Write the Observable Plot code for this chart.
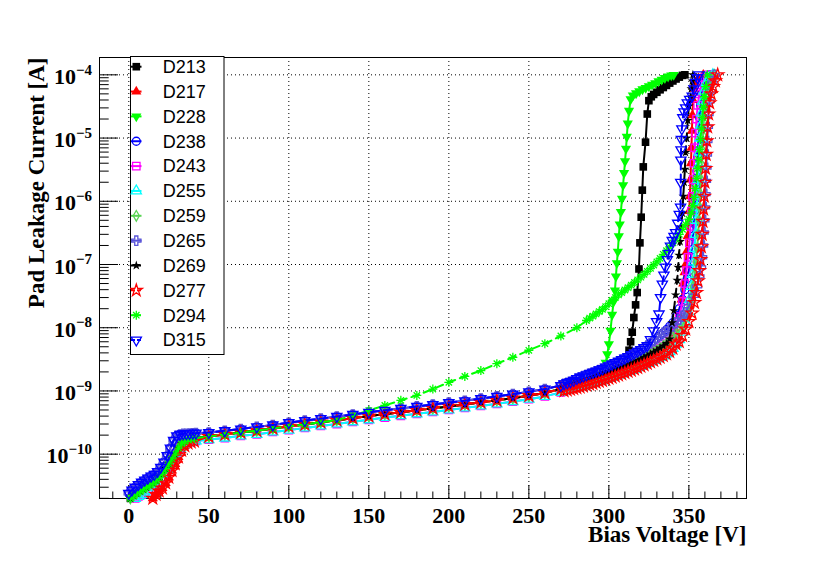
<!DOCTYPE html>
<html><head><meta charset="utf-8">
<script src="https://cdn.jsdelivr.net/npm/d3@7"></script>
<script src="https://cdn.jsdelivr.net/npm/@observablehq/plot@0.6"></script>
<style>
body{margin:0;background:#fff}
#wrap{position:relative;width:830px;height:567px;background:#fff}
</style>
</head><body><div id="wrap"></div>
<script>
// ---------- data ----------
const seriesNames = ["D213","D217","D228","D238","D243","D255","D259","D265","D269","D277","D294","D315"];
const seriesColors = ["#000000","#ff0000","#00ff00","#0000ff","#ff00ff","#00ffff","#59d454","#5954d8","#000000","#ff0000","#00ff00","#0000ff"];
const xMajorTicks = [0,50,100,150,200,250,300,350];
const yMajorTicks = [1e-10,1e-9,1e-8,1e-7,1e-6,1e-5,1e-4];
const yTickExponents = ["\u221210","\u22129","\u22128","\u22127","\u22126","\u22125","\u22124"];
const xTitle = "Bias Voltage [V]";
const yTitle = "Pad Leakage Current [A]";

// shared segments [V, I]
const lowBlue = [[0,2.4e-11],[2,2.7e-11],[4,3.0e-11],[6,3.3e-11],[8,3.6e-11],[10,3.9e-11],[12,4.2e-11],[14,4.5e-11],[16,4.8e-11],[18,5.3e-11],[20,6.2e-11],[22,7.5e-11],[24,9.5e-11],[26,1.25e-10],[28,1.65e-10],[30,1.95e-10],[32,2.05e-10],[34,2.1e-10],[36,2.1e-10],[38,2.12e-10],[40,2.14e-10],[42,2.15e-10]];
const lowGreen = [[1,2.0e-11],[3,2.2e-11],[5,2.4e-11],[7,2.6e-11],[9,2.8e-11],[11,3.0e-11],[13,3.25e-11],[15,3.5e-11],[17,3.85e-11],[19,4.3e-11],[21,5.0e-11],[23,5.9e-11],[25,7.0e-11],[27,8.4e-11],[29,1.0e-10],[31,1.25e-10],[33,1.45e-10],[35,1.6e-10],[37,1.7e-10],[39,1.75e-10],[41,1.78e-10]];
const lowCyan = [[4,2.0e-11],[6,2.15e-11],[8,2.3e-11],[10,2.5e-11],[12,2.7e-11],[14,3.0e-11],[16,3.3e-11],[18,3.7e-11],[20,4.2e-11],[22,4.9e-11],[24,5.8e-11],[26,7.0e-11],[28,8.5e-11],[30,1.05e-10],[32,1.25e-10],[34,1.4e-10],[36,1.5e-10],[38,1.55e-10],[40,1.6e-10],[42,1.62e-10]];
const lowRed = [[15,2.0e-11],[17,2.3e-11],[19,2.6e-11],[21,2.9e-11],[23,3.5e-11],[25,4.3e-11],[27,5.5e-11],[29,7.0e-11],[31,9.0e-11],[33,1.15e-10],[35,1.35e-10],[37,1.5e-10],[39,1.55e-10],[41,1.6e-10]];

const midHi = [[50,2.2e-10],[60,2.35e-10],[70,2.5e-10],[80,2.7e-10],[90,2.9e-10],[100,3.15e-10],[110,3.4e-10],[120,3.65e-10],[130,3.95e-10],[140,4.25e-10],[150,4.6e-10],[160,4.95e-10],[170,5.3e-10],[180,5.7e-10],[190,6.1e-10],[200,6.55e-10],[210,7.0e-10],[220,7.6e-10],[230,8.2e-10],[240,8.9e-10],[250,9.7e-10],[260,1.07e-9],[270,1.22e-9]];
const midMid = [[50,1.9e-10],[60,2.05e-10],[70,2.2e-10],[80,2.35e-10],[90,2.55e-10],[100,2.75e-10],[110,2.95e-10],[120,3.2e-10],[130,3.45e-10],[140,3.7e-10],[150,4.0e-10],[160,4.3e-10],[170,4.6e-10],[180,4.95e-10],[190,5.3e-10],[200,5.7e-10],[210,6.1e-10],[220,6.6e-10],[230,7.1e-10],[240,7.7e-10],[250,8.4e-10],[260,9.3e-10],[270,1.08e-9]];
const midLo = [[50,1.7e-10],[60,1.8e-10],[70,1.95e-10],[80,2.05e-10],[90,2.25e-10],[100,2.4e-10],[110,2.6e-10],[120,2.8e-10],[130,3.0e-10],[140,3.25e-10],[150,3.5e-10],[160,3.8e-10],[170,4.05e-10],[180,4.35e-10],[190,4.65e-10],[200,5.0e-10],[210,5.4e-10],[220,5.8e-10],[230,6.25e-10],[240,6.8e-10],[250,7.4e-10],[260,8.2e-10],[270,9.5e-10]];

const denseHi = [[272,1.3e-9],[274,1.35e-9],[276,1.4e-9],[278,1.47e-9],[280,1.57e-9],[282,1.65e-9],[284,1.72e-9],[286,1.8e-9],[288,1.88e-9],[290,1.96e-9],[292,2.05e-9],[294,2.15e-9],[296,2.25e-9],[298,2.38e-9],[300,2.5e-9],[302,2.65e-9],[304,2.8e-9],[306,2.95e-9],[308,3.12e-9],[310,3.3e-9],[312,3.5e-9],[314,3.72e-9],[316,3.96e-9],[318,4.22e-9],[320,4.5e-9],[322,4.85e-9],[324,5.25e-9],[326,5.7e-9],[328,6.2e-9],[330,6.8e-9],[332,7.5e-9],[334,8.3e-9]];
const denseMid = [[272,1.15e-9],[274,1.2e-9],[276,1.24e-9],[278,1.28e-9],[280,1.33e-9],[282,1.38e-9],[284,1.43e-9],[286,1.49e-9],[288,1.55e-9],[290,1.61e-9],[292,1.68e-9],[294,1.75e-9],[296,1.82e-9],[298,1.9e-9],[300,1.98e-9],[302,2.07e-9],[304,2.16e-9],[306,2.26e-9],[308,2.37e-9],[310,2.48e-9],[312,2.6e-9],[314,2.73e-9],[316,2.87e-9],[318,3.02e-9],[320,3.2e-9],[322,3.4e-9],[324,3.6e-9],[326,3.85e-9],[328,4.1e-9],[330,4.4e-9],[332,4.75e-9],[334,5.15e-9],[336,5.6e-9],[338,6.2e-9],[340,7.0e-9]];
const denseLo = [[272,1.0e-9],[274,1.03e-9],[276,1.06e-9],[278,1.09e-9],[280,1.12e-9],[282,1.15e-9],[284,1.19e-9],[286,1.23e-9],[288,1.27e-9],[290,1.31e-9],[292,1.36e-9],[294,1.41e-9],[296,1.46e-9],[298,1.52e-9],[300,1.58e-9],[302,1.64e-9],[304,1.71e-9],[306,1.78e-9],[308,1.86e-9],[310,1.94e-9],[312,2.03e-9],[314,2.12e-9],[316,2.22e-9],[318,2.33e-9],[320,2.45e-9],[322,2.58e-9],[324,2.72e-9],[326,2.87e-9],[328,3.03e-9],[330,3.2e-9],[332,3.4e-9],[334,3.6e-9],[336,3.85e-9],[338,4.2e-9],[340,4.7e-9],[342,5.5e-9]];

// breakdown segments, one per sensor
const tail213 = [[310,2.6e-9],[311.5,3.2e-9],[312.6,4.4e-9],[313.6,6e-9],[314.6,8.5e-9],[315.6,1.45e-8],[316.7,2.3e-8],[317.7,3.6e-8],[318.8,8.5e-8],[319.4,2.2e-7],[320.2,5.6e-7],[320.9,1.5e-6],[321.5,3.5e-6],[322.9,8.6e-6],[324,2.4e-5],[325,3.9e-5],[326.5,4.5e-5],[328,4.9e-5],[330,5.3e-5],[332,5.8e-5],[334,6.3e-5],[336,6.8e-5],[338,7.4e-5],[340,8.0e-5],[342,8.6e-5],[344,9.2e-5],[346,9.8e-5],[347.5,1.0e-4]];
const tail217 = [[342,8.9e-9],[344,1.6e-8],[345.5,2.8e-8],[346.5,5e-8],[347.3,7.5e-8],[348,1.0e-7],[348.6,1.6e-7],[349.2,2.8e-7],[349.7,4.5e-7],[350.2,7e-7],[350.6,1.2e-6],[351,2.2e-6],[351.3,4e-6],[351.6,7e-6],[351.9,1.3e-5],[352.2,2.3e-5],[352.6,4e-5],[353.2,6e-5],[354,7.6e-5],[356,8.8e-5],[359,1e-4]];
const tail228 = [[296,1.95e-9],[297,2.3e-9],[298,2.8e-9],[299,3.8e-9],[300,5.5e-9],[301,9e-9],[302,1.6e-8],[303,2.6e-8],[303.8,3.9e-8],[304.4,6.5e-8],[305,1.05e-7],[305.6,1.6e-7],[306.2,2.8e-7],[306.8,4.3e-7],[307.5,6.8e-7],[308.2,1.1e-6],[308.9,1.8e-6],[309.5,2.8e-6],[310.1,4.3e-6],[310.7,6.8e-6],[311.2,1.05e-5],[311.8,1.7e-5],[312.6,2.7e-5],[313.6,4.1e-5],[315,4.7e-5],[317,5.1e-5],[319,5.5e-5],[321,5.9e-5],[323,6.2e-5],[325,6.6e-5],[327,7.0e-5],[329,7.4e-5],[331,7.9e-5],[333,8.4e-5],[335,8.9e-5],[337,9.4e-5],[339,9.8e-5],[340.5,1.0e-4]];
const tail238 = [[336,9.3e-9],[338,1.05e-8],[340,1.2e-8],[342,1.5e-8],[344,2e-8],[346,2.8e-8],[347.5,4e-8],[349,6e-8],[350,8e-8],[351,1.1e-7],[351.8,1.7e-7],[352.5,2.8e-7],[353,4.5e-7],[353.5,7e-7],[354,1.1e-6],[354.5,1.8e-6],[355,3e-6],[355.4,5e-6],[355.8,8e-6],[356.2,1.3e-5],[356.7,2.1e-5],[357.3,3.3e-5],[358,5e-5],[359.5,7e-5],[361,8.5e-5],[363,1e-4]];
const tail243 = [[342,9e-9],[344,1.5e-8],[346,2.6e-8],[347.5,5e-8],[348.5,8e-8],[349.5,1.3e-7],[350.3,2.2e-7],[351,4e-7],[351.6,7e-7],[352.2,1.2e-6],[352.7,2.2e-6],[353.2,4e-6],[353.7,7e-6],[354.2,1.2e-5],[354.8,2e-5],[355.5,3.3e-5],[356.5,5e-5],[358,7e-5],[360,9e-5],[362,1e-4]];
const tail255 = [[344,6.5e-9],[346,8.5e-9],[348,1.2e-8],[349.5,1.8e-8],[350.5,2.8e-8],[351.5,4.5e-8],[352.3,7e-8],[353,1.1e-7],[353.6,1.8e-7],[354.1,3e-7],[354.6,5e-7],[355,8e-7],[355.4,1.3e-6],[355.8,2.2e-6],[356.2,3.7e-6],[356.6,6e-6],[357,1e-5],[357.5,1.6e-5],[358,2.5e-5],[358.6,3.8e-5],[359.5,5.5e-5],[361,7.5e-5],[363,9e-5],[365,1e-4]];
const tail259 = [[342,7.8e-9],[344,9e-9],[346,1.1e-8],[348,1.4e-8],[350,2e-8],[351.5,3e-8],[352.7,4.5e-8],[353.7,7e-8],[354.5,1.1e-7],[355.2,1.8e-7],[355.8,3e-7],[356.3,5e-7],[356.8,8e-7],[357.2,1.3e-6],[357.6,2.2e-6],[358,3.8e-6],[358.4,6.5e-6],[358.8,1.1e-5],[359.3,1.8e-5],[360,3e-5],[361,4.8e-5],[362.5,7e-5],[364,8.8e-5],[366,1e-4]];
const tail265 = [[336,8.8e-9],[338,9.5e-9],[340,1.05e-8],[342,1.2e-8],[344,1.35e-8],[346,1.5e-8],[348,1.75e-8],[350,2.2e-8],[353,3.2e-8],[355,4.5e-8],[356.5,6.5e-8],[357.5,9e-8],[358.2,1.3e-7],[358.8,2e-7],[359.2,3.2e-7],[359.6,5e-7],[360,8e-7],[360.3,1.3e-6],[360.6,2.1e-6],[360.9,3.4e-6],[361.2,5.5e-6],[361.5,9e-6],[361.8,1.5e-5],[362.2,2.4e-5],[362.8,3.8e-5],[363.6,5.5e-5],[364.6,7.5e-5],[366,1e-4]];
const tail269 = [[338,6.6e-9],[339.5,1.2e-8],[340.6,1.86e-8],[341.7,3.3e-8],[342.7,5.6e-8],[343.3,9e-8],[343.8,1.4e-7],[344.5,2.3e-7],[345.2,3.9e-7],[345.9,6.5e-7],[346.5,1.2e-6],[347,2.0e-6],[347.5,3.2e-6],[347.9,5.9e-6],[348.6,1.0e-5],[349.3,1.9e-5],[350,3.2e-5],[351,4.4e-5],[351.5,6e-5],[352.1,8e-5],[352.5,1e-4]];
const tail277 = [[344,6e-9],[346,7.5e-9],[348,9.5e-9],[350,1.25e-8],[352,1.7e-8],[353.5,2.5e-8],[354.7,3.6e-8],[355.7,5.5e-8],[356.5,8e-8],[357.2,1.2e-7],[357.8,1.9e-7],[358.3,3e-7],[358.8,4.8e-7],[359.2,7.5e-7],[359.6,1.2e-6],[360,2e-6],[360.4,3.3e-6],[360.8,5.5e-6],[361.2,9e-6],[361.7,1.5e-5],[362.3,2.4e-5],[363,3.6e-5],[364,5e-5],[365.2,6.5e-5],[366.5,8e-5],[368,1e-4]];
const tail294 = [[140,4.1e-10],[150,4.9e-10],[160,5.9e-10],[170,7.1e-10],[180,8.5e-10],[190,1.07e-9],[200,1.37e-9],[210,1.7e-9],[220,2.1e-9],[230,2.7e-9],[240,3.4e-9],[250,4.4e-9],[260,5.6e-9],[270,7.4e-9],[280,1.0e-8],[286,1.3e-8],[288,1.42e-8],[290,1.52e-8],[292,1.65e-8],[294,1.8e-8],[296,1.95e-8],[298,2.15e-8],[300,2.4e-8],[302,2.7e-8],[304,3.0e-8],[306,3.3e-8],[308,3.6e-8],[310,3.95e-8],[312,4.3e-8],[314,4.7e-8],[316,5.2e-8],[318,5.7e-8],[320,6.3e-8],[322,7.0e-8],[324,7.8e-8],[326,8.7e-8],[328,9.8e-8],[330,1.1e-7],[332,1.25e-7],[334,1.45e-7],[336,1.65e-7],[338,1.9e-7],[340,2.2e-7],[342,2.55e-7],[344,3.0e-7],[346,3.6e-7],[348,4.3e-7],[350,5.2e-7],[351.5,6.5e-7],[352.5,8.5e-7],[353.3,1.15e-6],[354,1.6e-6],[354.7,2.3e-6],[355.4,3.3e-6],[356,4.6e-6],[356.6,6.6e-6],[357.2,9.5e-6],[357.8,1.4e-5],[358.4,2.1e-5],[359,3.1e-5],[359.6,4.5e-5],[360.4,6.5e-5],[361.5,1e-4]];
const tail315 = [[324,5.2e-9],[326,6.5e-9],[328,8.9e-9],[329.8,1.25e-8],[331.3,1.65e-8],[332.3,3.0e-8],[333.4,4.9e-8],[334.4,6.8e-8],[335.4,9.1e-8],[336.5,1.2e-7],[337.5,1.5e-7],[338.5,1.95e-7],[339.6,2.4e-7],[340.7,2.8e-7],[341.7,3.2e-7],[343,4.5e-7],[344,6.2e-7],[344.8,8.1e-7],[344.9,2.0e-6],[345,4.5e-6],[345.1,6.5e-6],[345.3,9.5e-6],[345.6,1.4e-5],[346.2,2.1e-5],[347,2.6e-5],[348,3.0e-5],[349,3.6e-5],[350.5,4.1e-5],[352.1,4.6e-5],[353.2,6e-5],[354.2,7.6e-5],[355.3,9e-5],[356.3,1e-4]];

const upTo = (seg, vmax) => seg.filter(d => d[0] <= vmax);
const seriesPoints = {
  D213: [...lowGreen, ...midMid, ...upTo(denseMid, 308), ...tail213],
  D217: [...lowRed, ...midMid, ...upTo(denseMid, 340), ...tail217],
  D228: [...lowGreen, ...midMid, ...upTo(denseMid, 294), ...tail228],
  D238: [...lowBlue, ...midHi, ...upTo(denseHi, 334), ...tail238],
  D243: [...lowCyan, ...midLo, ...upTo(denseMid, 340), ...tail243],
  D255: [...lowCyan, ...midLo, ...upTo(denseLo, 342), ...tail255],
  D259: [...lowGreen, ...midMid, ...upTo(denseMid, 340), ...tail259],
  D265: [...lowBlue, ...midHi, ...upTo(denseHi, 334), ...tail265],
  D269: [...lowGreen, ...midMid, ...upTo(denseMid, 336), ...tail269],
  D277: [...lowRed, ...midMid, ...upTo(denseLo, 342), ...tail277],
  D294: [...lowGreen, ...upTo(midMid, 130), ...tail294],
  D315: [...lowBlue, ...midHi, ...upTo(denseHi, 322), ...tail315]
};

// ---------- styles ----------
const asterisk8 = {
  draw(ctx, size) {
    const r = Math.sqrt(size / Math.PI) * 1.25;
    for (let k = 0; k < 4; k++) {
      const a = k * Math.PI / 4, c = Math.cos(a) * r, s = Math.sin(a) * r;
      ctx.moveTo(c, s); ctx.lineTo(-c, -s);
    }
  }
};
const symbolTypes = {square: d3.symbolSquare, triangle: d3.symbolTriangle, circle: d3.symbolCircle, diamond: d3.symbolDiamond, cross: d3.symbolCross, star: d3.symbolStar};
const markerStyles = [
  {symbol: "square", filled: true, r: 4.3, rotate: 0, dash: null},
  {symbol: "triangle", filled: true, r: 3.8, rotate: 0, dash: null},
  {symbol: "triangle", filled: true, r: 3.8, rotate: 180, dash: null},
  {symbol: "circle", filled: false, r: 4.0, rotate: 0, dash: null},
  {symbol: "square", filled: false, r: 4.2, rotate: 0, dash: null},
  {symbol: "triangle", filled: false, r: 3.8, rotate: 0, dash: null},
  {symbol: "diamond", filled: false, r: 3.2, rotate: 0, dash: null},
  {symbol: "cross", filled: false, r: 3.9, rotate: 0, dash: null},
  {symbol: "star", filled: true, r: 3.0, rotate: 0, dash: "8,5"},
  {symbol: "star", filled: false, r: 3.8, rotate: 0, dash: "8,5"},
  {symbol: asterisk8, filled: false, r: 3.6, rotate: 0, dash: "8,5"},
  {symbol: "triangle", filled: false, r: 3.8, rotate: 180, dash: "8,5"}
];

// ---------- layout ----------
const W = 830, H = 567, mL = 99, mR = 84, mT = 57, mB = 69;
const innerW = W - mL - mR, innerH = H - mT - mB;
const xMinorTicks = [];
for (let v = -10; v <= 380; v += 10) if (v % 50 !== 0) xMinorTicks.push(v);
const yMinorTicks = [];
for (let e = -11; e <= -4; e++) for (let m = 2; m <= 9; m++) {
  const v = m * Math.pow(10, e);
  if (v >= 1.99e-11 && v <= 1.88e-4) yMinorTicks.push(v);
}
const serif = "'Liberation Serif', 'Times New Roman', serif";

const marks = [
  Plot.ruleX(xMajorTicks, {x: d => d, stroke: "#000", strokeWidth: 1, strokeDasharray: "1,3"}),
  Plot.ruleY(yMajorTicks, {y: d => d, stroke: "#000", strokeWidth: 1, strokeDasharray: "1,3"}),
  Plot.ruleX(xMajorTicks, {x: d => d, stroke: "#000", insetTop: innerH - 13}),
  Plot.ruleX(xMinorTicks, {x: d => d, stroke: "#000", insetTop: innerH - 6.5}),
  Plot.ruleY(yMajorTicks, {y: d => d, stroke: "#000", insetRight: innerW - 19}),
  Plot.ruleY(yMinorTicks, {y: d => d, stroke: "#000", insetRight: innerW - 9.7}),
  Plot.frame({stroke: "#000", strokeWidth: 1})
];

seriesNames.forEach((name, k) => {
  const rows = seriesPoints[name].map(([v, i]) => ({v, i}));
  const st = markerStyles[k], col = seriesColors[k];
  marks.push(Plot.line(rows, {x: "v", y: "i", stroke: col, strokeWidth: 2, strokeDasharray: st.dash || undefined}));
  marks.push(Plot.dot(rows, {
    x: "v", y: "i", symbol: st.symbol, r: st.r, rotate: st.rotate,
    fill: st.filled ? col : "none", stroke: st.filled ? "none" : col, strokeWidth: st.filled ? 0 : 1.3
  }));
});

marks.push(
  Plot.text(xMajorTicks, {x: d => d, frameAnchor: "bottom", lineAnchor: "middle", dy: 17, text: d => String(d), fontFamily: serif, fontWeight: "bold", fontSize: 22, fill: "#000"}),
  Plot.text(yMajorTicks, {y: d => d, frameAnchor: "left", lineAnchor: "middle", dx: -7.5, dy: 2, textAnchor: "end", text: (d, i) => yTickExponents[i], fontFamily: serif, fontWeight: "bold", fontSize: 22, fill: "#000"}),
  Plot.text([xTitle], {frameAnchor: "bottom-right", lineAnchor: "middle", text: d => d, textAnchor: "end", dy: 36, fontFamily: serif, fontWeight: "bold", fontSize: 23, fill: "#000"}),
  Plot.text([yTitle], {frameAnchor: "top-left", lineAnchor: "middle", text: d => d, textAnchor: "end", rotate: -90, dx: -63, fontFamily: serif, fontWeight: "bold", fontSize: 23, fill: "#000"})
);

const chart = Plot.plot({
  width: W, height: H,
  marginLeft: mL, marginRight: mR, marginTop: mT, marginBottom: mB,
  x: {domain: [-18.3, 386], axis: null},
  y: {type: "log", domain: [1.99e-11, 1.88e-4], axis: null},
  style: {background: "#fff"},
  marks
});

// superscript exponents on y tick labels: "10" + raised exponent
d3.select(chart).selectAll("text").each(function () {
  const exp = this.textContent;
  if (!yTickExponents.includes(exp)) return;
  const t = d3.select(this);
  t.text(null);
  t.append("tspan").text("10");
  t.append("tspan").attr("font-size", 15).attr("dy", "-0.62em").text(exp);
});

const wrap = document.getElementById("wrap");
wrap.appendChild(chart);

// ---------- legend ----------
const legW = 94.5, legH = 299;
const leg = d3.create("svg").attr("width", legW + 1).attr("height", legH + 1)
  .style("position", "absolute").style("left", "130px").style("top", "56px");
leg.append("rect").attr("x", 0.5).attr("y", 0.5).attr("width", legW - 1).attr("height", legH - 1)
  .attr("fill", "#fff").attr("stroke", "#000").attr("stroke-width", 1);
seriesNames.forEach((name, k) => {
  const st = markerStyles[k], col = seriesColors[k];
  const cy = 10.7 + k * 24.85;
  leg.append("line").attr("x1", 1).attr("x2", 11.5).attr("y1", cy).attr("y2", cy)
    .attr("stroke", col).attr("stroke-width", 2).attr("stroke-dasharray", st.dash ? "4,2" : null);
  const type = typeof st.symbol === "string" ? symbolTypes[st.symbol] : st.symbol;
  leg.append("path").attr("d", d3.symbol(type, Math.PI * st.r * st.r)())
    .attr("transform", `translate(6.3,${cy}) rotate(${st.rotate})`)
    .attr("fill", st.filled ? col : "none").attr("stroke", st.filled ? "none" : col)
    .attr("stroke-width", st.filled ? 0 : 1.3);
  leg.append("text").attr("x", 32.7).attr("y", cy).attr("dy", "0.35em")
    .attr("font-family", "'Liberation Sans', Arial, sans-serif").attr("font-size", 18).attr("fill", "#000").text(name);
});
wrap.appendChild(leg.node());
</script>
</body></html>
